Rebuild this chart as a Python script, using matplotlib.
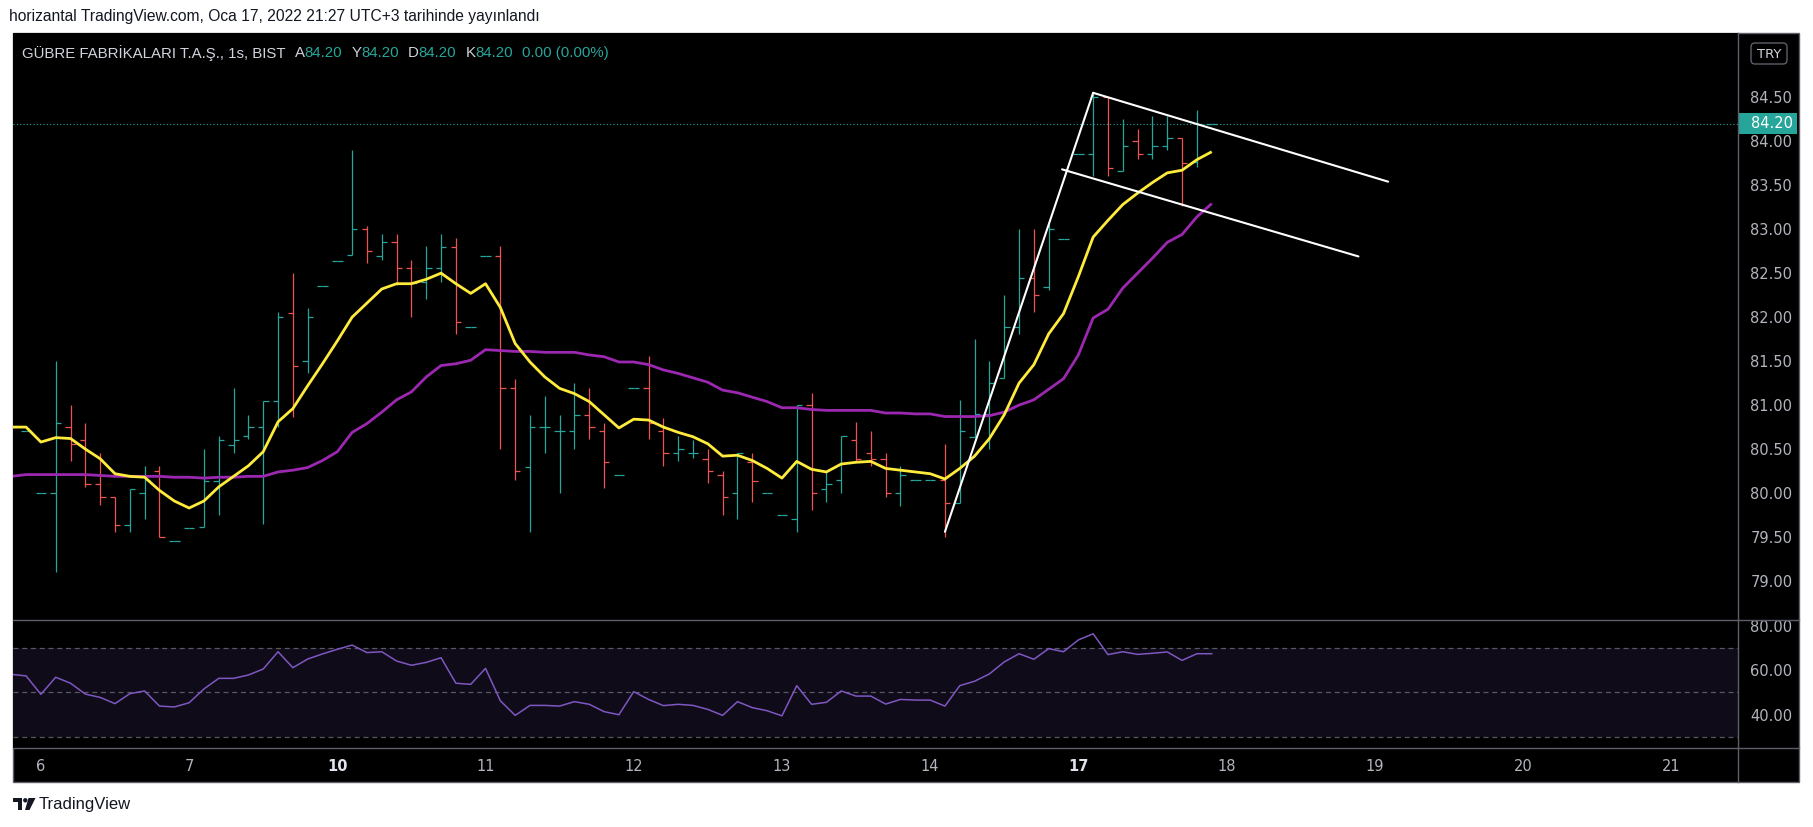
import matplotlib
matplotlib.use("Agg")
import matplotlib.pyplot as plt
import matplotlib.transforms as mtransforms
from matplotlib.patches import Rectangle, FancyBboxPatch, Polygon, Circle
from matplotlib.lines import Line2D
import numpy as np

W, H = 1813, 827

# hourly bars, index 0 = Jan 6 first bar (10 bars per session)
bar_idx = list(range(-2, 80))
opens = [80.80, 80.70,
         80.00, 80.00, 80.75, 80.60, 80.10, 79.95, 79.64, 80.00, 80.25, 79.45,
         79.60, 79.61, 80.14, 80.55, 80.65, 80.75, 81.05, 82.05, 81.50, 82.35,
         82.64, 82.71, 83.00, 82.70, 82.85, 82.56, 82.40, 82.56, 82.80, 81.89,
         82.70, 82.70, 81.20, 80.30, 80.75, 80.70, 80.70, 80.89, 80.70, 80.20,
         81.20, 81.20, 80.70, 80.45, 80.45, 80.39, 80.20, 80.00, 80.35, 80.00,
         79.75, 79.70, 81.00, 80.05, 80.15, 80.60, 80.45, 80.39, 80.00, 80.15,
         80.15, 80.15, 79.89, 80.64, 80.90, 81.31, 81.89, 82.45, 82.34, 82.89,
         83.85, 83.85, 84.50, 83.66, 84.00, 83.85, 83.95, 84.04, 83.76, 84.20]
highs = [80.90, 80.70,
         80.00, 81.50, 81.00, 80.80, 80.45, 79.95, 80.05, 80.31, 80.31, 79.45,
         79.60, 80.50, 80.65, 81.20, 80.89, 81.05, 82.06, 82.50, 82.10, 82.35,
         82.64, 83.90, 83.04, 82.95, 82.95, 82.65, 82.81, 82.95, 82.90, 81.89,
         82.70, 82.81, 81.30, 80.89, 81.10, 80.89, 81.25, 81.20, 80.80, 80.20,
         81.20, 81.56, 80.85, 80.65, 80.60, 80.50, 80.25, 80.45, 80.45, 80.00,
         79.75, 81.00, 81.14, 80.25, 80.65, 80.81, 80.70, 80.45, 80.31, 80.15,
         80.15, 80.56, 81.06, 81.75, 81.50, 82.25, 83.00, 83.00, 83.08, 82.89,
         83.85, 84.54, 84.50, 84.25, 84.14, 84.29, 84.29, 84.04, 84.35, 84.20]
lows = [80.70, 80.70,
        80.00, 79.10, 80.36, 80.07, 79.86, 79.56, 79.56, 79.70, 79.50, 79.45,
        79.60, 79.61, 79.75, 80.46, 80.61, 79.65, 80.75, 80.86, 81.36, 82.35,
        82.64, 82.71, 82.61, 82.65, 82.36, 82.00, 82.21, 82.40, 81.81, 81.89,
        82.70, 80.50, 80.15, 79.56, 80.46, 80.00, 80.50, 80.61, 80.06, 80.20,
        81.20, 80.61, 80.31, 80.36, 80.40, 80.11, 79.75, 79.71, 79.90, 80.00,
        79.75, 79.56, 79.81, 79.90, 80.00, 80.36, 80.31, 79.96, 79.85, 80.15,
        80.15, 79.50, 79.89, 80.64, 80.50, 81.31, 81.81, 82.06, 82.31, 82.89,
        83.85, 83.61, 83.61, 83.66, 83.80, 83.80, 83.90, 83.26, 83.71, 84.20]
closes = [80.75, 80.70,
          80.00, 80.80, 80.56, 80.10, 79.95, 79.64, 80.05, 80.15, 79.50, 79.45,
          79.60, 80.14, 80.60, 80.60, 80.75, 81.05, 82.00, 81.45, 82.00, 82.35,
          82.64, 83.00, 82.75, 82.85, 82.56, 82.39, 82.56, 82.80, 81.95, 81.89,
          82.70, 81.20, 80.25, 80.75, 80.75, 80.70, 80.89, 80.75, 80.35, 80.20,
          81.20, 80.80, 80.45, 80.50, 80.45, 80.25, 79.95, 80.45, 80.14, 80.00,
          79.75, 81.00, 80.00, 80.10, 80.65, 80.39, 80.39, 80.00, 80.20, 80.15,
          80.15, 79.89, 80.70, 80.90, 81.25, 81.89, 82.45, 82.25, 83.00, 82.89,
          83.85, 84.50, 83.70, 83.95, 83.85, 83.95, 84.04, 83.75, 84.20, 84.20]

ma_fast = [80.75, 80.75,
           80.58, 80.63, 80.62, 80.50, 80.39, 80.22, 80.19, 80.18, 80.03, 79.91,
           79.83, 79.91, 80.07, 80.19, 80.31, 80.47, 80.81, 80.96, 81.22, 81.47,
           81.73, 82.00, 82.16, 82.32, 82.38, 82.38, 82.43, 82.50, 82.38, 82.27,
           82.38, 82.11, 81.70, 81.49, 81.32, 81.19, 81.13, 81.04, 80.89, 80.74,
           80.84, 80.83, 80.75, 80.69, 80.64, 80.56, 80.42, 80.43, 80.37, 80.28,
           80.17, 80.36, 80.27, 80.24, 80.33, 80.35, 80.36, 80.28, 80.26, 80.24,
           80.22, 80.16, 80.28, 80.42, 80.62, 80.89, 81.25, 81.46, 81.81, 82.04,
           82.46, 82.91, 83.10, 83.28, 83.41, 83.53, 83.64, 83.67, 83.79, 83.88]
ma_slow = [80.19, 80.21,
           80.21, 80.21, 80.21, 80.21, 80.20, 80.19, 80.19, 80.19, 80.19, 80.18,
           80.18, 80.17, 80.18, 80.18, 80.19, 80.19, 80.24, 80.26, 80.29, 80.37,
           80.47, 80.69, 80.79, 80.92, 81.06, 81.15, 81.32, 81.45, 81.47, 81.51,
           81.63, 81.62, 81.61, 81.61, 81.60, 81.60, 81.60, 81.57, 81.55, 81.49,
           81.49, 81.46, 81.40, 81.36, 81.31, 81.26, 81.17, 81.14, 81.09, 81.04,
           80.97, 80.97, 80.95, 80.94, 80.94, 80.94, 80.94, 80.91, 80.91, 80.90,
           80.90, 80.87, 80.87, 80.87, 80.88, 80.92, 81.00, 81.06, 81.18, 81.30,
           81.57, 81.99, 82.09, 82.33, 82.50, 82.67, 82.85, 82.94, 83.14, 83.29]
rsi = [58.1, 57.4,
       49.1, 56.8, 54.1, 49.2, 47.7, 44.9, 49.4, 50.6, 43.8, 43.4,
       45.3, 51.5, 56.3, 56.3, 57.8, 60.5, 68.3, 61.1, 65.0, 67.3,
       69.4, 71.3, 67.9, 68.3, 64.1, 62.2, 63.5, 65.6, 54.1, 53.6,
       60.8, 46.2, 39.6, 44.1, 44.1, 43.8, 45.8, 44.6, 41.3, 39.9,
       50.3, 46.8, 44.0, 44.6, 44.1, 42.3, 39.6, 45.8, 43.1, 41.7,
       39.4, 53.0, 44.6, 45.5, 50.6, 48.3, 48.3, 44.7, 46.8, 46.5,
       46.5, 43.8, 53.0, 55.0, 58.3, 63.7, 67.4, 64.9, 69.7, 68.3,
       73.6, 76.4, 67.0, 68.3, 67.1, 67.6, 68.2, 64.4, 67.4, 67.4]

# drawn trend lines: (bar index, price) end points
trend_x = [[61.0, 71.0], [71.0, 90.9], [68.9, 88.9]]
trend_y = [[79.56, 84.55], [84.55, 83.54], [83.68, 82.69]]

day_idx = [0, 10, 20, 30, 40, 50, 60, 70, 80, 90, 100, 110]
day_labels = ['6', '7', '10', '11', '12', '13', '14', '17', '18', '19', '20', '21']
week_start = ['10', '17']
price_ticks = [79.0, 79.5, 80.0, 80.5, 81.0, 81.5, 82.0, 82.5, 83.0, 83.5, 84.0, 84.5]
rsi_ticks = [40, 60, 80]
rsi_levels = [30, 50, 70]
last_price = 84.20

caption = 'horizantal TradingView.com, Oca 17, 2022 21:27 UTC+3 tarihinde yayınlandı'
header_name = 'GÜBRE FABRİKALARI T.A.Ş., 1s, BIST'
ohlc_keys = ['A', 'Y', 'D', 'K']
ohlc_vals = [84.20, 84.20, 84.20, 84.20]
change_txt = '0.00 (0.00%)'

TEAL = '#26a69a'
RED = '#ef5350'
LIGHT = '#d1d4dc'
SCALE = '#b2b5be'
FRAME = '#5d606b'
NARROW = ['Liberation Sans Narrow', 'Liberation Sans', 'DejaVu Sans']

fig = plt.figure(figsize=(W / 100, H / 100), dpi=100, facecolor='white')
pix = mtransforms.Affine2D().scale(1.0 / W, -1.0 / H).translate(0, 1) + fig.transFigure
renderer = fig.canvas.get_renderer()

# chart frame and pane separators
fig.patches.append(Rectangle((13, 33), 1786, 749, transform=pix, fc='black',
                             ec=FRAME, lw=1, zorder=-5))
for (x0, y0, x1, y1) in [(13, 620, 1799, 620), (13, 748, 1799, 748), (1738, 33, 1738, 782)]:
    fig.lines.append(Line2D([x0, x1], [y0, y1], transform=pix, color=FRAME, lw=1, zorder=5))

xlim = (-1.883, 114.51)
ax = fig.add_axes([13 / W, 1 - 620 / H, 1725 / W, 587 / H], facecolor='black')
axr = fig.add_axes([13 / W, 1 - 748 / H, 1725 / W, 128 / H], facecolor='black')
for a in (ax, axr):
    a.set_xlim(*xlim)
    for s in a.spines.values():
        s.set_visible(False)
ax.set_ylim(78.557, 85.23)
axr.set_ylim(24.9, 82.6)

# OHLC bars
o = np.array(opens); c = np.array(closes)
x = np.array(bar_idx, dtype=float)
cols = np.where(c >= o, TEAL, RED)
tick = 0.36
ax.vlines(x, lows, highs, colors=cols, lw=0.9, zorder=2)
ax.hlines(o, x - tick, x, colors=cols, lw=0.9, zorder=2)
ax.hlines(c, x, x + tick, colors=cols, lw=0.9, zorder=2)

ax.plot(bar_idx, ma_slow, color='#9c27b0', lw=2.0, zorder=3, solid_capstyle='butt')
ax.plot(bar_idx, ma_fast, color='#ffeb3b', lw=2.0, zorder=3, solid_capstyle='butt')
for tx, ty in zip(trend_x, trend_y):
    ax.plot(tx, ty, color='white', lw=1.5, zorder=4, solid_capstyle='round')

ax.axhline(last_price, color=TEAL, lw=0.8, ls=(0, (1, 2)), zorder=1)

ax.yaxis.tick_right()
ax.set_yticks(price_ticks)
ax.set_yticklabels([f'{p:.2f}' for p in price_ticks])
ax.set_xticks([])
ax.tick_params(axis='y', length=0, pad=9, labelsize=10.5, labelcolor=SCALE)

# last price badge on the scale
btr = mtransforms.blended_transform_factory(ax.transAxes, ax.transData)
ax.add_patch(Rectangle((1.0, last_price - 0.115), 59 / 1725, 0.23, transform=btr,
                       fc=TEAL, ec='none', clip_on=False, zorder=6))
ax.text(1.0 + 12.7 / 1725, last_price, f'{last_price:.2f}', transform=btr, color='white',
        fontsize=10.5, va='center', ha='left', zorder=7, clip_on=False)

# RSI pane
axr.axhspan(rsi_levels[0], rsi_levels[-1], color='#0f0b18', lw=0, zorder=0)
for lv in rsi_levels:
    axr.axhline(lv, color='#787b86', alpha=0.7, lw=0.9, ls=(0, (4, 3)), zorder=1)
axr.plot(bar_idx, rsi, color='#7e57c2', lw=1.1, zorder=3)
axr.yaxis.tick_right()
axr.set_yticks(rsi_ticks)
axr.set_yticklabels([f'{v:.2f}' for v in rsi_ticks])
axr.tick_params(axis='y', length=0, pad=9, labelsize=10.5, labelcolor=SCALE)
axr.set_xticks(day_idx)
axr.set_xticklabels(day_labels)
axr.tick_params(axis='x', length=0, pad=8, labelsize=10.5, labelcolor=SCALE)
for lab in axr.get_xticklabels():
    if lab.get_text() in week_start:
        lab.set_fontweight('bold')
        lab.set_color('#e0e3eb')

# TRY box
fig.patches.append(FancyBboxPatch((1751, 43), 36, 21, boxstyle='round,pad=0,rounding_size=4',
                                  transform=pix, fc='black', ec=FRAME, lw=1, zorder=6))
fig.text(1769, 54, 'TRY', transform=pix, color=LIGHT, fontsize=9.5, ha='center',
         va='center', zorder=7)


def fit_size(s, size, target, family):
    t = fig.text(0, 0, s, fontsize=size, family=family)
    w = t.get_window_extent(renderer).width
    t.remove()
    return size * target / w


# caption above chart
cs = fit_size(caption, 11, 531, NARROW)
fig.text(9, 17, caption, transform=pix, fontsize=cs, family=NARROW, color='#131722',
         va='center', ha='left')

# legend line of the main pane
parts = [(header_name, LIGHT, 9)]
for k, v in zip(ohlc_keys, ohlc_vals):
    parts.append((k, LIGHT, 0))
    parts.append((f'{v:.2f}', TEAL, 9))
parts.append((change_txt, TEAL, 0))
full = header_name + ' ' + ' '.join(k + f'{v:.2f}' for k, v in zip(ohlc_keys, ohlc_vals)) + ' ' + change_txt
hs = fit_size(full, 11, 583 - 5 * 9 + 5 * 4, NARROW)
xpos = 22
for s, col, gap in parts:
    t = fig.text(xpos, 53, s, transform=pix, fontsize=hs, family=NARROW, color=col,
                 va='center', ha='left', zorder=7)
    bb = t.get_window_extent(renderer)
    xpos = bb.x1 + gap

# TradingView footer logo
fig.patches.append(Polygon([(13, 798), (22, 798), (22, 810), (18, 810), (18, 802), (13, 802)],
                           closed=True, transform=pix, fc='#131722', ec='none'))
fig.patches.append(Circle((25.3, 800.3), 2.2, transform=pix, fc='#131722', ec='none'))
fig.patches.append(Polygon([(28.5, 798), (35.5, 798), (29.5, 810), (25.0, 810)],
                           closed=True, transform=pix, fc='#131722', ec='none'))
fs = fit_size('TradingView', 12, 92, NARROW)
fig.text(39, 804, 'TradingView', transform=pix, fontsize=fs, family=NARROW,
         color='#131722', va='center', ha='left')

fig.savefig('out.png', dpi=100, facecolor='white')
